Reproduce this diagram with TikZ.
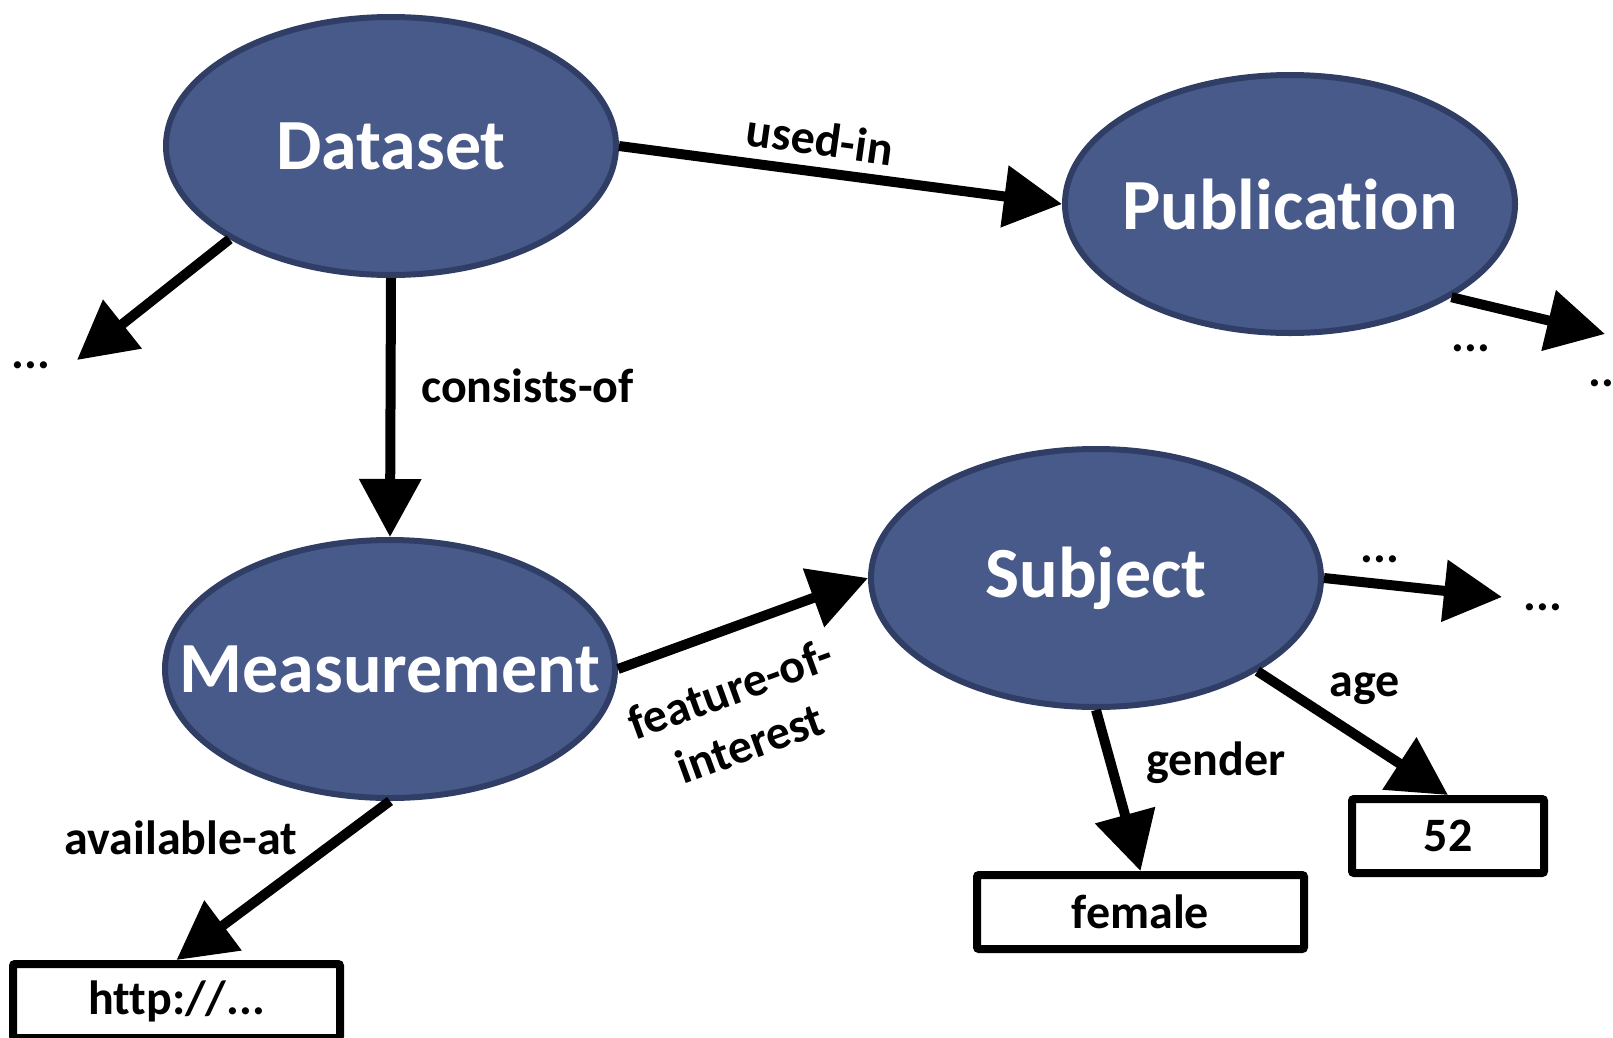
\documentclass[tikz,border=0pt]{standalone}
\usepackage{fontspec}
\setmainfont{Carlito}[Ligatures=NoCommon]
\usetikzlibrary{arrows.meta,shapes.geometric}
\definecolor{ellfill}{RGB}{72,90,138}
\definecolor{ellline}{RGB}{48,62,102}
\begin{document}
\begin{tikzpicture}[x=1pt,y=-1pt,
  cls/.style={ellipse, fill=ellfill, draw=ellline, line width=6pt, minimum width=450pt, minimum height=258pt, inner sep=0pt, text=white, font=\bfseries\fontsize{72}{86}\selectfont},
  lit/.style={draw=black, line width=8pt, rounded corners=2pt, fill=white, inner sep=0pt, minimum height=74pt, font=\bfseries\fontsize{48}{58}\selectfont},
  lbl/.style={font=\bfseries\fontsize{48}{58}\selectfont, inner sep=0pt},
  rel/.style={line width=10pt, -{Triangle[length=58pt,width=60pt]}},
]
\useasboundingbox (0,0) rectangle (1613,1037);

\node[cls] (d) at (391,146) {\makebox[0pt]{Dataset}};
\node[cls] (p) at (1290,204) {\makebox[0pt]{Publication}};
\node[cls] (m) at (390,669) {\makebox[0pt]{Measurement}};
\node[cls] (s) at (1096,578) {\makebox[0pt]{Subject}};

\node[lit, minimum width=327pt] (h) at (176.5,1001) {http://...};
\node[lit, minimum width=327pt] (f) at (1140.5,912) {female};
\node[lit, minimum width=192pt] (a) at (1448,836) {52};

\coordinate (dl) at (77,360);
\coordinate (pr) at (1605,334);
\coordinate (sr) at (1502,597);

\draw[rel] (d.east) -- (p.west);
\draw[rel] (d.210) -- (dl);
\draw[rel] (d.south) -- (m.north);
\draw[rel] (p.-30) -- (pr);
\draw[rel] (m.east) -- (s.west);
\draw[rel] (s.east) -- (sr);
\draw[rel] (s.south) -- (f.north);
\draw[rel] (s.-30) -- (a.north);
\draw[rel] (m.south) -- (h.north);

\node[lbl, rotate=-8] (lused) at (820,139) {used-in};
\node[lbl, anchor=west] (lcons) at (421,386) {consists-of};
\node[lbl, rotate=20, align=center] (lfeat) at (740,716) {feature-of-\\interest};
\node[lbl] (lgen) at (1216,763) {gender};
\node[lbl] (lage) at (1365,689) {age};
\node[lbl] (lavail) at (181,838) {available-at};

\node[lbl] (dot1) at (31,365) {...};
\node[lbl] (dot2) at (1471,348) {...};
\node[lbl] (dot3) at (1608,383) {...};
\node[lbl] (dot4) at (1380,559) {...};
\node[lbl] (dot5) at (1543,607) {...};
\end{tikzpicture}
\end{document}
